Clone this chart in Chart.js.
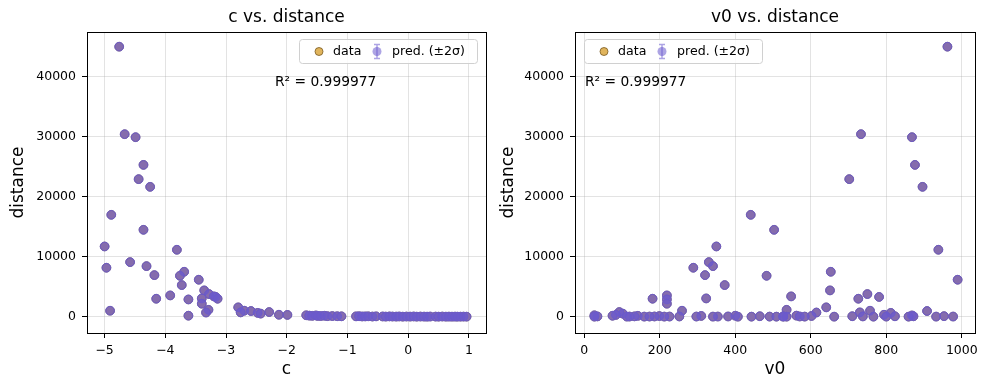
<!DOCTYPE html>
<html>
<head>
<meta charset="utf-8">
<script src="https://cdn.jsdelivr.net/npm/chart.js@4.4.1/dist/chart.umd.min.js"></script>
<style>
  html, body { margin: 0; padding: 0; background: #fff; }
  #wrap { position: relative; width: 988px; height: 390px; }
  canvas { position: absolute; top: 0; }
  #c1 { left: 0; }
  #c2 { left: 494px; }
</style>
</head>
<body>
<div id="wrap">
  <canvas id="c1" width="494" height="390"></canvas>
  <canvas id="c2" width="494" height="390"></canvas>
</div>
<script>
// ---- data (each index is one observation: c, v0, distance) ----
const cVals = [
  -4.76, -4.67, -4.49, -4.36, -4.44, -4.25, -4.89, -4.36, -5.00, -3.81,
  -4.58, -4.31, -4.97, -3.69, -4.18, -3.76, -3.45, -3.73, -3.36, -3.28,
  -3.92, -3.20, -3.17, -4.15, -3.40, -3.62, -3.14, -3.40, -2.80, -3.29,
  -4.91, -2.70, -2.59, -3.33, -2.76, -2.48, -2.43, -2.29, -2.13, -1.99,
  -3.62,
  -1.68, -1.63, -1.58, -1.52, -1.49, -1.44, -1.38, -1.33, -1.25, -1.17, -1.10,
  -0.86, -0.81, -0.76, -0.71, -0.66, -0.59, -0.53,
  -0.42, -0.37, -0.31, -0.26, -0.20, -0.15, -0.09, -0.03, 0.03, 0.09, 0.14, 0.20, 0.26, 0.31, 0.36,
  0.45, 0.50, 0.56, 0.62, 0.67, 0.72, 0.77, 0.81, 0.86, 0.91, 0.96
];
const v0Vals = [
  962, 733, 868, 876, 702, 896, 441, 503, 350, 938,
  330, 341, 289, 653, 320, 483, 989, 372, 651, 750,
  219, 548, 781, 181, 323, 219, 726, 219, 641, 536,
  259, 757, 908, 615, 730, 812, 102, 93, 794, 84,
  400,
  27, 562, 142, 868, 310, 602, 75, 953, 199, 465, 823,
  133, 710, 381, 35, 872, 226, 527,
  571, 159, 738, 297, 932, 186, 443, 120, 800, 252, 536, 977, 212, 766, 354,
  584, 407, 173, 662, 491, 859, 341, 509, 527, 113, 27
];
const distVals = [
  45050, 30450, 29950, 25330, 22950, 21670, 17000, 14500, 11720, 11170,
  9110, 8440, 8170, 7500, 6940, 6830, 6170, 5280, 4390, 3780,
  3550, 3390, 3300, 3000, 3050, 2880, 3000, 2170, 1560, 1150,
  1000, 1000, 950, 700, 720, 640, 520, 780, 330, 300,
  170,
  240, 180, 150, 210, 130, 120, 160, 90, 110, 80, 70,
  60, 80, 40, 50, 70, 30, 60,
  40, 20, 50, 30, 20, 40, 10, 30, 20, 40, 10, 30, 20, 10, 30,
  20, 10, 30, 10, 20, 10, 20, 10, 10, 20, 10
];
const predVals = distVals.slice();
const yTicks = [0, 10000, 20000, 30000, 40000];
const cTicks = [-5, -4, -3, -2, -1, 0, 1];
const v0Ticks = [0, 200, 400, 600, 800, 1000];
const r2Text = 'R\u00B2 = 0.999977';

// ---- styling ----
const FONT = '"DejaVu Sans", "Liberation Sans", sans-serif';
const gridColor = 'rgba(176,176,176,0.35)';
const dataFill = '#d9a84a';
const dataEdge = '#7a5a22';
const predFill = 'rgba(106,90,205,0.76)';
const predEdge = 'rgba(106,90,205,0.9)';

function fmt(v) {
  const s = String(v);
  return s.replace('-', '\u2212');
}

function makeChart(canvasId, xVals, xTicks, xMin, xMax, opt) {
  const dataPts = xVals.map((x, i) => ({ x: x, y: distVals[i] }));
  const predPts = xVals.map((x, i) => ({ x: x, y: predVals[i] }));
  const decor = {
    id: 'decor' + canvasId,
    afterDraw(chart) {
      const ctx = chart.ctx;
      const a = chart.chartArea;
      ctx.save();
      // frame (spines)
      ctx.strokeStyle = '#000';
      ctx.lineWidth = 1;
      ctx.strokeRect(Math.round(a.left) + 0.5, Math.round(a.top) + 0.5,
                     Math.round(a.right - a.left), Math.round(a.bottom - a.top));
      ctx.fillStyle = '#000';
      // title
      ctx.font = '17px ' + FONT;
      ctx.textAlign = 'center';
      ctx.textBaseline = 'middle';
      ctx.fillText(opt.title, (a.left + a.right) / 2, 18);
      // x label
      ctx.fillText(opt.xLabel, (a.left + a.right) / 2, 370);
      // y label
      ctx.save();
      ctx.translate(opt.yLabelX, (a.top + a.bottom) / 2);
      ctx.rotate(-Math.PI / 2);
      ctx.fillText('distance', 0, 0);
      ctx.restore();
      // R2 text
      ctx.font = '13.8px ' + FONT;
      ctx.textAlign = 'left';
      ctx.fillText(r2Text, opt.r2X, 82);
      // legend
      const lx = opt.legX, ly = 39, lw = 178, lh = 24;
      ctx.beginPath();
      if (ctx.roundRect) ctx.roundRect(lx + 0.5, ly + 0.5, lw, lh, 3);
      else ctx.rect(lx + 0.5, ly + 0.5, lw, lh);
      ctx.fillStyle = 'rgba(255,255,255,0.85)';
      ctx.fill();
      ctx.strokeStyle = '#d0d0d0';
      ctx.lineWidth = 1;
      ctx.stroke();
      const cy = ly + lh / 2 + 0.5;
      // data marker
      ctx.beginPath();
      ctx.arc(lx + 20, cy, 4, 0, Math.PI * 2);
      ctx.fillStyle = '#e0b45c';
      ctx.fill();
      ctx.strokeStyle = dataEdge;
      ctx.lineWidth = 0.8;
      ctx.stroke();
      ctx.fillStyle = '#000';
      ctx.font = '12.6px ' + FONT;
      ctx.textBaseline = 'middle';
      ctx.fillText('data', lx + 34, cy);
      // pred marker with error bar
      const px = lx + 78;
      ctx.strokeStyle = 'rgba(106,90,205,0.55)';
      ctx.lineWidth = 1.5;
      ctx.beginPath();
      ctx.moveTo(px, cy - 7); ctx.lineTo(px, cy + 7);
      ctx.moveTo(px - 3, cy - 7); ctx.lineTo(px + 3, cy - 7);
      ctx.moveTo(px - 3, cy + 7); ctx.lineTo(px + 3, cy + 7);
      ctx.stroke();
      ctx.beginPath();
      ctx.arc(px, cy, 4.5, 0, Math.PI * 2);
      ctx.fillStyle = 'rgba(106,90,205,0.55)';
      ctx.fill();
      ctx.fillStyle = '#000';
      ctx.fillText('pred. (\u00B12\u03C3)', lx + 93, cy);
      ctx.restore();
    }
  };
  return new Chart(document.getElementById(canvasId), {
    type: 'scatter',
    data: {
      datasets: [
        { label: 'data', data: dataPts, backgroundColor: dataFill, borderColor: dataEdge,
          borderWidth: 0.8, pointRadius: 4.3, pointHoverRadius: 4.3, order: 2 },
        { label: 'pred. (\u00B12\u03C3)', data: predPts, backgroundColor: predFill, borderColor: predEdge,
          borderWidth: 1, pointRadius: 4.4, pointHoverRadius: 4.4, order: 1 }
      ]
    },
    options: {
      responsive: false,
      animation: false,
      events: [],
      layout: { padding: { top: 32, right: opt.padRight, left: 0, bottom: 0 } },
      plugins: { legend: { display: false }, title: { display: false }, tooltip: { enabled: false } },
      scales: {
        x: {
          type: 'linear', min: xMin, max: xMax,
          afterBuildTicks: s => { s.ticks = xTicks.map(v => ({ value: v })); },
          afterFit: s => { s.height = 57; },
          grid: { color: gridColor, tickColor: '#000', tickLength: 5, drawTicks: true, lineWidth: 1 },
          border: { display: true, color: '#000', width: 1 },
          ticks: { color: '#000', font: { family: FONT, size: 12.5 }, padding: 5,
                   maxRotation: 0, autoSkip: false, callback: v => fmt(v) }
        },
        y: {
          type: 'linear', min: -2717, max: 47500,
          afterBuildTicks: s => { s.ticks = yTicks.map(v => ({ value: v })); },
          afterFit: s => { s.width = opt.yWidth; },
          grid: { color: gridColor, tickColor: '#000', tickLength: 5, drawTicks: true, lineWidth: 1 },
          border: { display: true, color: '#000', width: 1 },
          ticks: { color: '#000', font: { family: FONT, size: 12.5 }, padding: 6,
                   autoSkip: false, callback: v => fmt(v) }
        }
      }
    },
    plugins: [decor]
  });
}

makeChart('c1', cVals, cTicks, -5.29, 1.28,
  { title: 'c vs. distance', xLabel: 'c', yLabelX: 19, r2X: 275, legX: 299, padRight: 8, yWidth: 87 });
makeChart('c2', v0Vals, v0Ticks, -24.4, 1035,
  { title: 'v0 vs. distance', xLabel: 'v0', yLabelX: 15, r2X: 91, legX: 90, padRight: 13, yWidth: 81 });
</script>
</body>
</html>
